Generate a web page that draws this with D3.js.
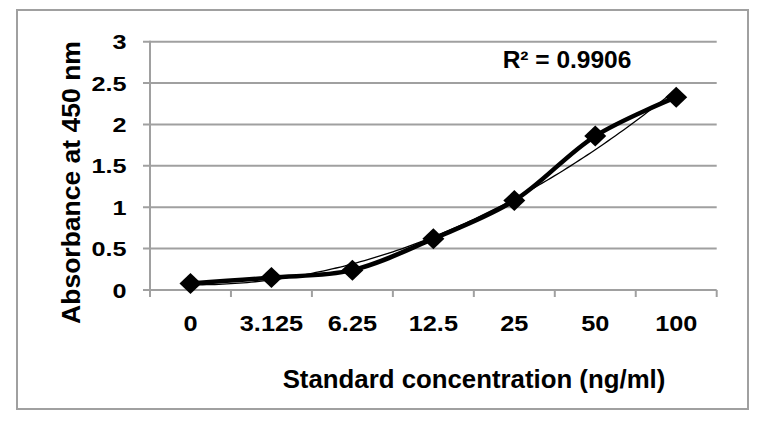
<!DOCTYPE html>
<html><head><meta charset="utf-8">
<script src="https://cdn.jsdelivr.net/npm/d3@7"></script>
<style>body{margin:0;background:#fff}svg{display:block}text{font-family:"Liberation Sans",Arial,sans-serif;font-weight:bold;fill:#000}</style>
</head><body>
<svg id="c" width="768" height="426"></svg>
<script>
const categories = ["0","3.125","6.25","12.5","25","50","100"];
const absorbance = [0.08,0.15,0.24,0.62,1.08,1.86,2.33];
const yTicks = [0,0.5,1,1.5,2,2.5,3];
const yTickLabels = ["0","0.5","1","1.5","2","2.5","3"];
const r2Label = "R² = 0.9906";
const xTitle = "Standard concentration (ng/ml)";
const yTitle = "Absorbance at 450 nm";

const svg = d3.select("#c");
svg.append("rect").attr("x",17).attr("y",10).attr("width",731).attr("height",399)
  .attr("fill","none").attr("stroke","#a0a0a0").attr("stroke-width",2);

const x = d3.scaleBand().domain(categories).range([150,716.7]);
const y = d3.scaleLinear().domain([0,3]).range([290,41.7]);
const gray = "#a0a0a0";

// gridlines + y ticks
svg.append("g").selectAll("line").data(yTicks).join("line")
  .attr("x1",143).attr("x2",716.7).attr("y1",d=>y(d)).attr("y2",d=>y(d))
  .attr("stroke",gray).attr("stroke-width",2);
// y axis line
svg.append("line").attr("x1",150).attr("x2",150).attr("y1",y(3)-1).attr("y2",297)
  .attr("stroke",gray).attr("stroke-width",2);
// x ticks at band boundaries
const bounds = categories.map(c=>x(c)).concat([x.range()[1]]);
svg.append("g").selectAll("line").data(bounds.slice(1)).join("line")
  .attr("x1",d=>d).attr("x2",d=>d).attr("y1",290).attr("y2",297)
  .attr("stroke",gray).attr("stroke-width",2);

// y tick labels
svg.append("g").selectAll("text").data(yTicks).join("text")
  .attr("transform",d=>`translate(126.5,${y(d)}) scale(1.2,1)`).attr("dy","0.36em").attr("text-anchor","end")
  .attr("font-size",21).text((d,i)=>yTickLabels[i]);
// x tick labels
svg.append("g").selectAll("text").data(categories).join("text")
  .attr("transform",d=>`translate(${x(d)+x.bandwidth()/2},331) scale(1.15,1)`).attr("text-anchor","middle")
  .attr("font-size",22).text(d=>d);

// trendline: least-squares quadratic fit of the data over category index
const idx = absorbance.map((v,i)=>i+1);
function polyfit2(xs,ys){
  let S=[0,0,0,0,0],T=[0,0,0];
  xs.forEach((xv,i)=>{for(let k=0;k<5;k++)S[k]+=Math.pow(xv,k);for(let k=0;k<3;k++)T[k]+=ys[i]*Math.pow(xv,k);});
  const A=[[S[0],S[1],S[2],T[0]],[S[1],S[2],S[3],T[1]],[S[2],S[3],S[4],T[2]]];
  for(let i=0;i<3;i++){for(let j=i+1;j<3;j++){const f=A[j][i]/A[i][i];for(let k=i;k<4;k++)A[j][k]-=f*A[i][k];}}
  const c=[0,0,0];
  for(let i=2;i>=0;i--){let s=A[i][3];for(let k=i+1;k<3;k++)s-=A[i][k]*c[k];c[i]=s/A[i][i];}
  return c;
}
const coef = polyfit2(idx,absorbance);
const xi = i => x(categories[0]) + x.bandwidth()/2 + (i-1)*x.step();
const trendPts = d3.range(1,7.001,0.05).map(t=>[xi(t), y(coef[0]+coef[1]*t+coef[2]*t*t)]);
svg.append("path").attr("d",d3.line()(trendPts)).attr("fill","none")
  .attr("stroke","#000").attr("stroke-width",1.3);

// data line (smoothed)
const line = d3.line().x((d,i)=>x(categories[i])+x.bandwidth()/2).y(d=>y(d)).curve(d3.curveCatmullRom.alpha(0.5));
svg.append("path").datum(absorbance).attr("d",line).attr("fill","none")
  .attr("stroke","#000").attr("stroke-width",4.5);

// diamond markers
const diamond = {draw(ctx,size){const w=11,h=10.5;ctx.moveTo(0,-h);ctx.lineTo(w,0);ctx.lineTo(0,h);ctx.lineTo(-w,0);ctx.closePath();}};
svg.append("g").selectAll("path").data(absorbance).join("path")
  .attr("transform",(d,i)=>`translate(${x(categories[i])+x.bandwidth()/2},${y(d)})`)
  .attr("d",d3.symbol().type(diamond).size(100)()).attr("fill","#000");

// texts
svg.append("text").attr("x",567).attr("y",68).attr("text-anchor","middle").attr("font-size",24.5).text(r2Label);
svg.append("text").attr("x",474).attr("y",388).attr("text-anchor","middle").attr("font-size",25.8).text(xTitle);
svg.append("text").attr("transform","translate(80,182.5) rotate(-90)").attr("text-anchor","middle").attr("font-size",26.5).text(yTitle);
</script>
</body></html>
